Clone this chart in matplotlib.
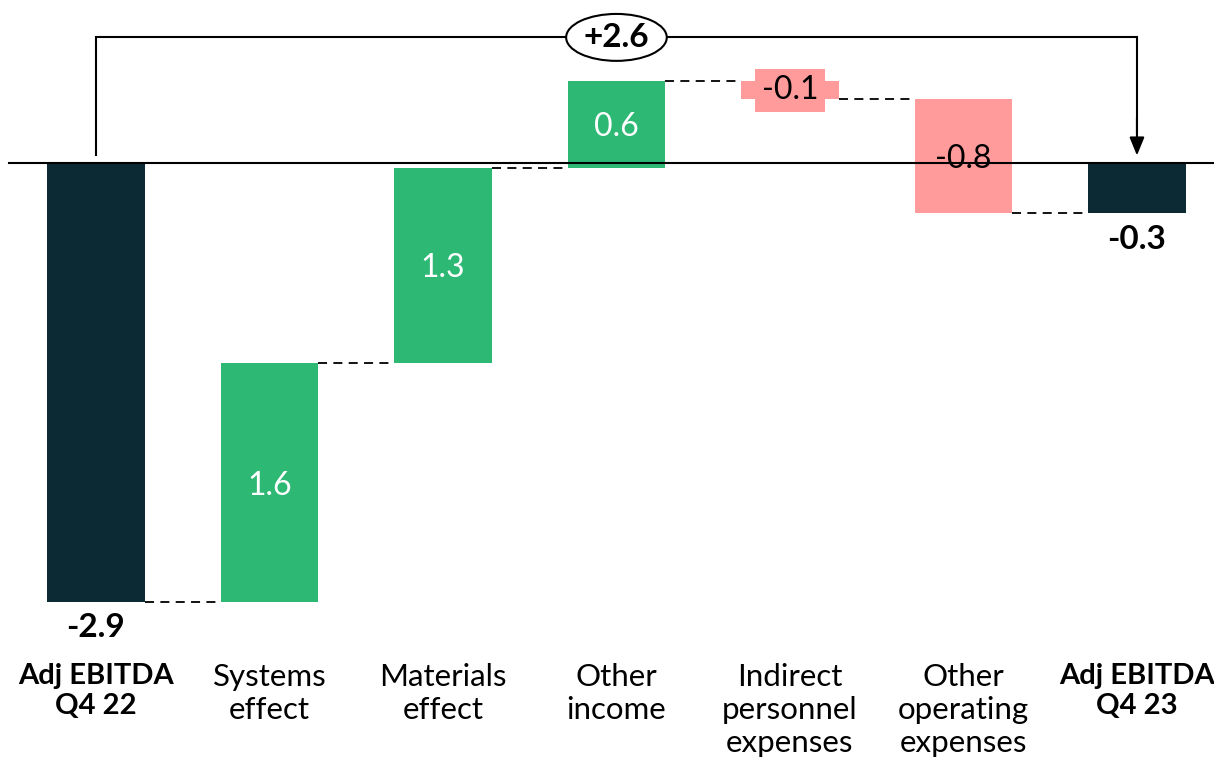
import matplotlib
matplotlib.use('Agg')
import matplotlib.pyplot as plt
from matplotlib.patches import Ellipse

plt.rcParams['font.family'] = ['Lato', 'DejaVu Sans']

# --- data -------------------------------------------------------------------
categories = ['Adj EBITDA\nQ4 22', 'Systems\neffect', 'Materials\neffect',
              'Other\nincome', 'Indirect\npersonnel\nexpenses',
              'Other\noperating\nexpenses', 'Adj EBITDA\nQ4 23']
start_value = -2.9
deltas = [1.58, 1.29, 0.57, -0.12, -0.75]
end_value = -0.33
value_labels = ['-2.9', '1.6', '1.3', '0.6', '-0.1', '-0.8', '-0.3']
change_label = '+2.6'

DARK = '#0C2A33'
GREEN = '#2DB873'
PINK = '#FF9B9B'

fig = plt.figure(figsize=(12.14, 7.62), dpi=100)
ax = fig.add_axes([0, 0, 1, 1])
ax.set_xlim(-0.553, 6.444)
ax.set_ylim(-3.956, 1.077)
ax.axis('off')

w = 0.56
# bars: running total for the floating steps
bottoms, heights, colors = [], [], []
bottoms.append(0); heights.append(start_value); colors.append(DARK)
level = start_value
levels = [level]
for d in deltas:
    bottoms.append(level)
    heights.append(d)
    colors.append(GREEN if d > 0 else PINK)
    level += d
    levels.append(level)
bottoms.append(0); heights.append(end_value); colors.append(DARK)
x = list(range(len(categories)))
ax.bar(x, heights, bottom=bottoms, width=w, color=colors, zorder=2)

# zero line
ax.plot([-0.5, 6.444], [0, 0], color='black', lw=1.5, zorder=3)

# dashed connectors between bars
for i, lv in enumerate(levels):
    ax.plot([i + w / 2, i + 1 - w / 2], [lv, lv], color='black', lw=1.3,
            ls=(0, (5, 3.5)), zorder=1)

# value labels
ax.text(0, start_value - 0.07, value_labels[0], ha='center', va='top',
        fontsize=24, fontweight='bold')
ax.text(6, end_value - 0.08, value_labels[6], ha='center', va='top',
        fontsize=24, fontweight='bold')
for i, d in enumerate(deltas, start=1):
    yc = bottoms[i] + d / 2
    if d > 0:
        ax.text(i, yc, value_labels[i], ha='center', va='center_baseline',
                fontsize=23, color='white', zorder=4)
    elif abs(d) < 0.3:
        ax.text(i, yc, value_labels[i], ha='center', va='center',
                fontsize=23, color='black', zorder=4,
                bbox=dict(boxstyle='square,pad=0.2', fc=PINK, ec='none'))
    else:
        ax.text(i, yc, value_labels[i], ha='center', va='center_baseline',
                fontsize=23, color='black', zorder=4)

# category labels
for i, cat in enumerate(categories):
    bold = i in (0, len(categories) - 1)
    ax.text(i, -3.30, cat, ha='center', va='top',
            fontsize=21 if bold else 22.5, linespacing=1.22,
            fontweight='bold' if bold else 'normal')

# bracket with arrow showing total change
top = 0.83
ax.plot([0, 0, 6, 6], [0.05, top, top, 0.2], color='black', lw=1.5,
        solid_joinstyle='miter', zorder=3)
ax.annotate('', xy=(6, 0.05), xytext=(6, 0.3),
            arrowprops=dict(arrowstyle='-|>,head_length=1.1,head_width=0.45',
                            color='black', lw=1.5, shrinkA=0, shrinkB=0),
            zorder=3)
ax.add_patch(Ellipse((3, top), 0.58, 0.31, fc='white', ec='black', lw=1.5,
                     zorder=4))
ax.text(3, top, change_label, ha='center', va='center', fontsize=24,
        fontweight='bold', zorder=5)

fig.savefig('out.png', dpi=100)
